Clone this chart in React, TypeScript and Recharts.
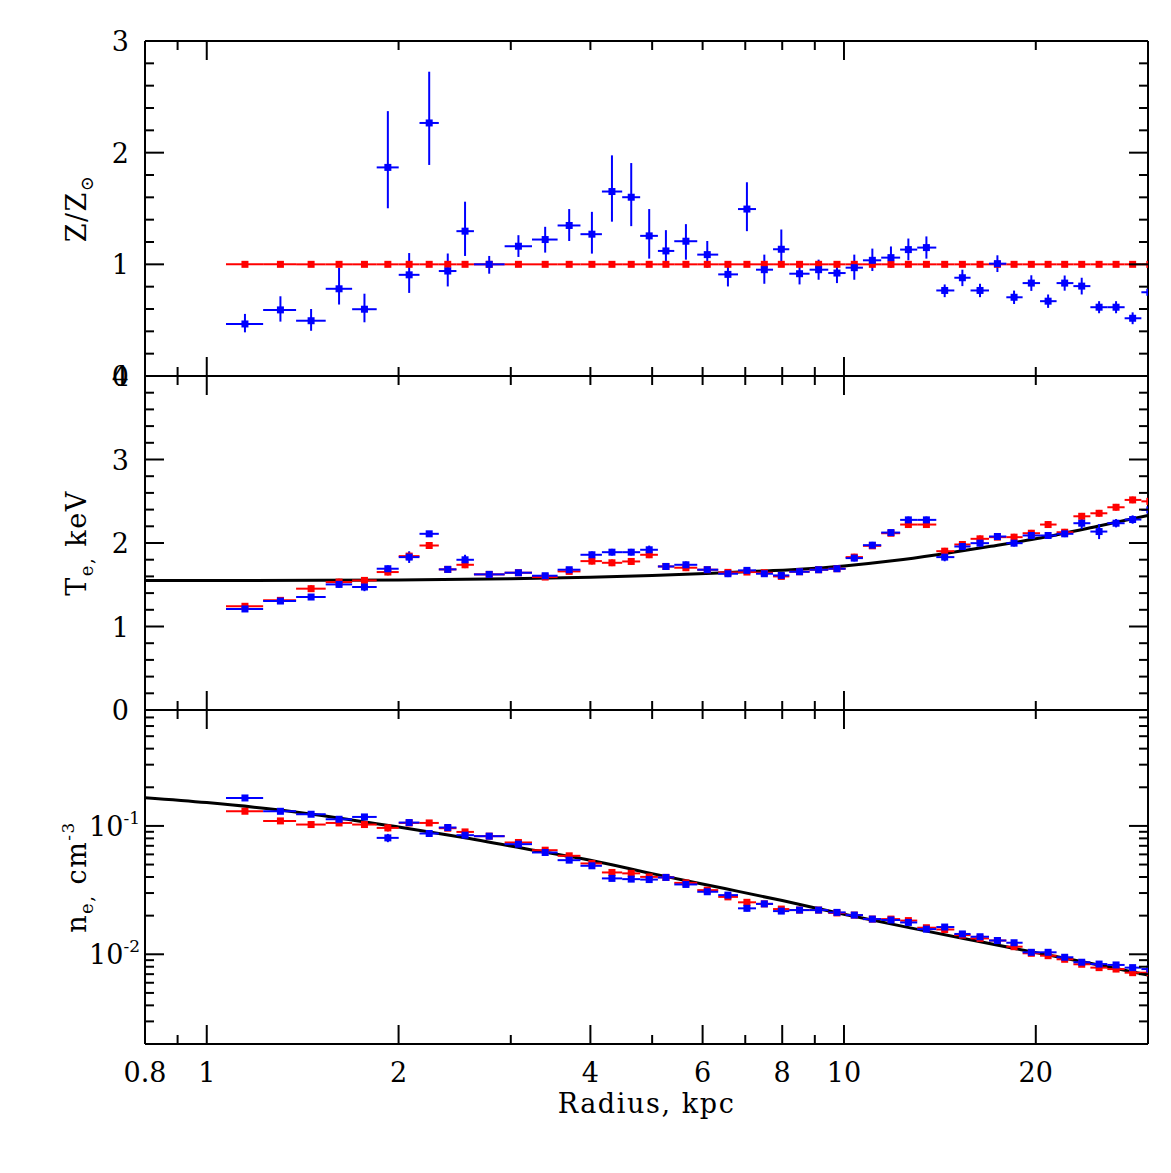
import React from "react";
import { ComposedChart, Scatter, Line, XAxis, YAxis, ErrorBar } from "recharts";

const W = 1171;
const H = 1173;
const LEFT = 145;
const RIGHT = 1148;
const FONT = "'DejaVu Serif', serif";
const BLUE = "#0000ff";
const RED = "#ff0000";

// radial bins (kpc): 47 edges for 46 annuli, last one runs past the axis
const binEdges = [
  1.072, 1.226, 1.381, 1.537, 1.691, 1.848, 2.001, 2.157, 2.313, 2.465, 2.626, 2.934, 3.239, 3.553,
  3.859, 4.17, 4.487, 4.788, 5.105, 5.416, 5.885, 6.348, 6.819, 7.277, 7.739, 8.207, 8.831, 9.448,
  10.06, 10.71, 11.44, 12.25, 13.03, 13.96, 14.9, 15.8, 16.89, 17.98, 19.07, 20.31, 21.56, 22.91,
  24.36, 25.9, 27.57, 29.29, 31.1,
];
const radius = [
  1.148, 1.305, 1.458, 1.613, 1.768, 1.924, 2.078, 2.234, 2.389, 2.543, 2.775, 3.084, 3.397, 3.705,
  4.022, 4.324, 4.636, 4.947, 5.255, 5.649, 6.102, 6.575, 7.042, 7.499, 7.974, 8.517, 9.124, 9.75,
  10.38, 11.08, 11.85, 12.62, 13.47, 14.39, 15.34, 16.35, 17.41, 18.49, 19.68, 20.91, 22.2, 23.61,
  25.14, 26.73, 28.38, 30.2,
];

// metallicity, Z/Zsun
const zBlue = [
  0.466, 0.592, 0.495, 0.781, 0.598, 1.868, 0.906, 2.266, 0.94, 1.297, 1.0, 1.162, 1.222, 1.348,
  1.27, 1.652, 1.601, 1.255, 1.12, 1.207, 1.087, 0.91, 1.495, 0.952, 1.135, 0.916, 0.952, 0.922,
  0.97, 1.036, 1.06, 1.132, 1.15, 0.766, 0.88, 0.766, 1.006, 0.705, 0.832, 0.67, 0.832, 0.805,
  0.616, 0.616, 0.517, 0.75,
];
const zBlueUp = [
  0.09, 0.122, 0.105, 0.189, 0.139, 0.504, 0.195, 0.459, 0.157, 0.264, 0.075, 0.099, 0.114, 0.147,
  0.2, 0.324, 0.306, 0.24, 0.186, 0.153, 0.122, 0.12, 0.24, 0.135, 0.177, 0.099, 0.09, 0.085,
  0.117, 0.105, 0.1, 0.099, 0.1, 0.054, 0.072, 0.06, 0.075, 0.06, 0.07, 0.06, 0.068, 0.075,
  0.054, 0.054, 0.053, 0.06,
];
const zBlueDown = [
  0.075, 0.105, 0.09, 0.141, 0.117, 0.366, 0.162, 0.376, 0.138, 0.222, 0.084, 0.096, 0.117, 0.139,
  0.174, 0.27, 0.259, 0.204, 0.13, 0.165, 0.117, 0.108, 0.198, 0.126, 0.159, 0.096, 0.09, 0.09,
  0.108, 0.096, 0.09, 0.096, 0.099, 0.06, 0.075, 0.06, 0.075, 0.06, 0.07, 0.06, 0.068, 0.075,
  0.054, 0.054, 0.053, 0.06,
];
const zRed = [
  1, 1, 1, 1, 1, 1, 1, 1, 1, 1, 1, 1, 1, 1, 1, 1, 1, 1, 1, 1, 1, 1, 1, 1, 1, 1, 1, 1, 1, 1, 1, 1,
  1, 1, 1, 1, 1, 1, 1, 1, 1, 1, 1, 1, 1, 1,
];

// temperature, keV
const tBlue = [
  1.21, 1.305, 1.353, 1.504, 1.473, 1.692, 1.831, 2.11, 1.684, 1.799, 1.624, 1.644, 1.608, 1.68,
  1.859, 1.89, 1.89, 1.919, 1.719, 1.739, 1.68, 1.632, 1.672, 1.632, 1.612, 1.656, 1.68, 1.692,
  1.819, 1.974, 2.125, 2.277, 2.277, 1.831, 1.958, 1.998, 2.078, 1.998, 2.09, 2.09, 2.11, 2.237,
  2.137, 2.237, 2.281, 2.396,
];
const tBlueErr = [
  0.03, 0.03, 0.03, 0.04, 0.05, 0.04, 0.07, 0.03, 0.03, 0.06, 0.03, 0.03, 0.03, 0.03, 0.04, 0.04,
  0.04, 0.05, 0.04, 0.04, 0.03, 0.04, 0.03, 0.03, 0.03, 0.03, 0.03, 0.03, 0.04, 0.04, 0.03, 0.04,
  0.04, 0.05, 0.04, 0.04, 0.03, 0.04, 0.04, 0.04, 0.04, 0.07, 0.09, 0.05, 0.05, 0.06,
];
const tRed = [
  1.242, 1.313, 1.453, 1.532, 1.552, 1.652, 1.843, 1.97, 1.684, 1.739, 1.624, 1.644, 1.592, 1.66,
  1.783, 1.763, 1.779, 1.859, 1.719, 1.704, 1.68, 1.648, 1.652, 1.644, 1.6, 1.656, 1.68, 1.692,
  1.831, 1.966, 2.117, 2.221, 2.221, 1.902, 1.982, 2.05, 2.07, 2.07, 2.117, 2.221, 2.129, 2.32,
  2.356, 2.428, 2.516, 2.499,
];
const tRedErr = [
  0.03, 0.03, 0.04, 0.04, 0.04, 0.04, 0.05, 0.04, 0.03, 0.04, 0.03, 0.03, 0.03, 0.03, 0.04, 0.04,
  0.04, 0.04, 0.03, 0.04, 0.03, 0.03, 0.03, 0.03, 0.03, 0.03, 0.03, 0.03, 0.04, 0.03, 0.03, 0.04,
  0.04, 0.04, 0.04, 0.04, 0.03, 0.04, 0.04, 0.04, 0.04, 0.04, 0.04, 0.04, 0.04, 0.04,
];
const tModelR = [0.8, 1, 1.5, 2, 3, 4, 5, 6.5, 8.5, 10, 12, 14, 17, 20, 25, 30];
const tModelT = [1.55, 1.55, 1.553, 1.557, 1.572, 1.59, 1.61, 1.645, 1.685, 1.725, 1.79, 1.86, 1.96, 2.05, 2.2, 2.33];

// electron density, cm^-3
const neBlue = [
  0.1651, 0.13, 0.1233, 0.1127, 0.1175, 0.0807, 0.1062, 0.0873, 0.0972, 0.0847, 0.0832, 0.0721,
  0.0621, 0.0541, 0.0489, 0.039, 0.0385, 0.0382, 0.0397, 0.035, 0.0307, 0.0289, 0.0228, 0.0247,
  0.0217, 0.0221, 0.0221, 0.0212, 0.0202, 0.0188, 0.0185, 0.0177, 0.0157, 0.0163, 0.0144, 0.0137,
  0.0128, 0.0123, 0.01036, 0.01036, 0.00948, 0.00867, 0.00839, 0.00826, 0.00787, 0.00767,
];
const neRed = [
  0.1301, 0.1094, 0.1025, 0.1055, 0.1025, 0.0965, 0.1055, 0.1055, 0.096, 0.0898, 0.0832, 0.0743,
  0.0647, 0.0585, 0.051, 0.0434, 0.0427, 0.0401, 0.0397, 0.036, 0.0316, 0.028, 0.0254, 0.0247,
  0.0225, 0.0221, 0.0221, 0.021, 0.0202, 0.0188, 0.0188, 0.0183, 0.0161, 0.0156, 0.0141, 0.0133,
  0.0128, 0.01146, 0.01018, 0.00975, 0.00914, 0.00836, 0.00787, 0.00767, 0.00719, 0.00719,
];
const neErr = [
  0.005, 0.004, 0.004, 0.004, 0.004, 0.006, 0.004, 0.003, 0.003, 0.003, 0.003, 0.003, 0.0025,
  0.002, 0.002, 0.0018, 0.0018, 0.0018, 0.0018, 0.0016, 0.0014, 0.0013, 0.0012, 0.0011, 0.001,
  0.001, 0.0009, 0.0009, 0.0008, 0.0008, 0.0008, 0.0007, 0.0007, 0.0007, 0.0006, 0.0006, 0.0006,
  0.0005, 0.0005, 0.0005, 0.0004, 0.0004, 0.0004, 0.0004, 0.0004, 0.0004,
];
const neModelR = [0.8, 1, 1.25, 1.6, 2, 2.5, 3.3, 4, 5, 6.5, 8, 10, 13, 16, 20, 25, 30];
const neModelN = [
  0.166, 0.152, 0.136, 0.116, 0.098, 0.082, 0.064, 0.054, 0.0425, 0.0325, 0.0262, 0.0205, 0.0157,
  0.0128, 0.0103, 0.0083, 0.0069,
];

// axis ticks
const xTicks = [0.8, 0.9, 1, 2, 3, 4, 5, 6, 7, 8, 9, 10, 20];
const xLabels = [0.8, 1, 2, 4, 6, 8, 10, 20];
const xDecades = [1, 10];
const zTicks = [0, 0.2, 0.4, 0.6, 0.8, 1, 1.2, 1.4, 1.6, 1.8, 2, 2.2, 2.4, 2.6, 2.8, 3];
const zMajor = [0, 1, 2, 3];
const tTicks = [0, 0.2, 0.4, 0.6, 0.8, 1, 1.2, 1.4, 1.6, 1.8, 2, 2.2, 2.4, 2.6, 2.8, 3, 3.2, 3.4, 3.6, 3.8, 4];
const tMajor = [0, 1, 2, 3, 4];
const neTicks = [
  0.002, 0.003, 0.004, 0.005, 0.006, 0.007, 0.008, 0.009, 0.01, 0.02, 0.03, 0.04, 0.05, 0.06, 0.07,
  0.08, 0.09, 0.1, 0.2, 0.3, 0.4, 0.5, 0.6, 0.7, 0.8,
];
const neMajor = [0.01, 0.1];
const neLabelExp = ["-2", "-1"];

const points = (values: number[], up: number[] | null, down?: number[] | null) =>
  radius.map((r, i) => ({
    r,
    v: values[i],
    ex: [r - binEdges[i], binEdges[i + 1] - r],
    ey: up ? [down ? down[i] : up[i], up[i]] : [0, 0],
  }));

const curve = (xs: number[], ys: number[]) => xs.map((r, i) => ({ r, v: ys[i] }));

const square = (color: string) => (p: any) =>
  p.cx == null ? <g /> : <rect x={p.cx - 3.5} y={p.cy - 3.5} width={7} height={7} fill={color} />;

function xTick(side: "top" | "bottom", longTicks: number[], labels: number[]) {
  return (props: any) => {
    const { x, y, payload } = props;
    const v = payload.value;
    const len = longTicks.includes(v) ? 19 : 9;
    const dir = side === "bottom" ? -1 : 1;
    return (
      <g>
        <line x1={x} y1={y} x2={x} y2={y + dir * len} stroke="#000" strokeWidth={2} />
        {labels.includes(v) ? (
          <text x={x} y={y + 38} textAnchor="middle" fontFamily={FONT} fontSize={27} fill="#000">
            {v}
          </text>
        ) : null}
      </g>
    );
  };
}

function yTick(side: "left" | "right", major: number[], label?: (v: number, x: number, y: number) => React.ReactNode) {
  return (props: any) => {
    const { x, y, payload } = props;
    const v = payload.value;
    const len = major.includes(v) ? 19 : 9;
    const dir = side === "left" ? 1 : -1;
    return (
      <g>
        <line x1={x} y1={y} x2={x + dir * len} y2={y} stroke="#000" strokeWidth={2} />
        {label ? label(v, x, y) : null}
      </g>
    );
  };
}

const linearLabel = (major: number[]) => (v: number, x: number, y: number) =>
  major.includes(v) ? (
    <text x={x - 16} y={y + 10} textAnchor="end" fontFamily={FONT} fontSize={27} fill="#000">
      {v}
    </text>
  ) : null;

const logLabel = (v: number, x: number, y: number) => {
  const i = neMajor.indexOf(v);
  if (i < 0) return null;
  return (
    <text x={x - 5} y={y + 10} textAnchor="end" fontFamily={FONT} fontSize={27} fill="#000">
      10
      <tspan dy={-12} fontSize={17}>
        {neLabelExp[i]}
      </tspan>
    </text>
  );
};

const titleProps = {
  textAnchor: "middle" as const,
  fontFamily: FONT,
  fontSize: 27,
  fill: "#000",
  letterSpacing: 1.5,
};
const titleZ = (x: number, y: number) => (
  <text transform={`translate(${x},${y}) rotate(-90)`} {...titleProps}>
    Z/Z
    <tspan fontSize={18} dy={7}>⊙</tspan>
  </text>
);
const titleT = (x: number, y: number) => (
  <text transform={`translate(${x},${y}) rotate(-90)`} {...titleProps}>
    T
    <tspan fontSize={18} dy={7}>e,</tspan>
    <tspan dy={-7}> keV</tspan>
  </text>
);
const titleN = (x: number, y: number) => (
  <text transform={`translate(${x},${y}) rotate(-90)`} {...titleProps}>
    n
    <tspan fontSize={18} dy={7}>e,</tspan>
    <tspan dy={-7}> cm</tspan>
    <tspan fontSize={17} dy={-12}>-3</tspan>
  </text>
);

const frame = { stroke: "#000", strokeWidth: 2 };

// axes need a non-zero size to be drawn, so each one gets 1px and the margins shrink by 1
function Panel(props: any) {
  const { top, bottom, yScale, yDomain, yTicks, yMajor, yLabel, xLong, xLabs, title, xTitle, children } = props;
  return (
    <div style={{ position: "absolute", left: 0, top: 0 }}>
      <ComposedChart
        width={W}
        height={H}
        margin={{ top: top - 1, bottom: H - bottom - 1, left: LEFT - 1, right: W - RIGHT - 1 }}
      >
        <XAxis
          xAxisId="b"
          dataKey="r"
          type="number"
          scale="log"
          domain={[0.8, 30]}
          allowDataOverflow
          ticks={xTicks}
          interval={0}
          height={1}
          tickSize={0}
          tickMargin={0}
          tickLine={false}
          axisLine={frame}
          tick={xTick("bottom", xLong, xLabs)}
          label={
            xTitle
              ? {
                  content: (p: any) => (
                    <text
                      x={p.viewBox.x + p.viewBox.width / 2}
                      y={p.viewBox.y + 69}
                      textAnchor="middle"
                      fontFamily={FONT}
                      fontSize={27}
                      letterSpacing={1.6}
                      fill="#000"
                    >
                      Radius, kpc
                    </text>
                  ),
                }
              : undefined
          }
        />
        <XAxis
          xAxisId="t"
          orientation="top"
          dataKey="r"
          type="number"
          scale="log"
          domain={[0.8, 30]}
          allowDataOverflow
          ticks={xTicks}
          interval={0}
          height={1}
          tickSize={0}
          tickMargin={0}
          tickLine={false}
          axisLine={frame}
          tick={xTick("top", xDecades, [])}
        />
        <YAxis
          yAxisId="l"
          dataKey="v"
          type="number"
          scale={yScale}
          domain={yDomain}
          allowDataOverflow
          ticks={yTicks}
          interval={0}
          width={1}
          tickSize={0}
          tickMargin={0}
          tickLine={false}
          axisLine={frame}
          tick={yTick("left", yMajor, yLabel)}
          label={{ content: (p: any) => title(p.viewBox.x - 58, p.viewBox.y + p.viewBox.height / 2) }}
        />
        <YAxis
          yAxisId="r"
          orientation="right"
          dataKey="v"
          type="number"
          scale={yScale}
          domain={yDomain}
          allowDataOverflow
          ticks={yTicks}
          interval={0}
          width={1}
          tickSize={0}
          tickMargin={0}
          tickLine={false}
          axisLine={frame}
          tick={yTick("right", yMajor)}
        />
        {children}
      </ComposedChart>
    </div>
  );
}

export default function App() {
  const zB = points(zBlue, zBlueUp, zBlueDown);
  const zR = points(zRed, null);
  const tB = points(tBlue, tBlueErr);
  const tR = points(tRed, tRedErr);
  const nB = points(neBlue, neErr);
  const nR = points(neRed, neErr);

  return (
    <div style={{ position: "absolute", left: 0, top: 0, width: W, height: H, background: "#fff" }}>
      <Panel top={41} bottom={376} yScale="linear" yDomain={[0, 3]} yTicks={zTicks} yMajor={zMajor}
        yLabel={linearLabel(zMajor)} xLong={xDecades} xLabs={[]} title={titleZ}>
        <Scatter xAxisId="b" yAxisId="l" data={zR} shape={square(RED)} isAnimationActive={false}>
          <ErrorBar dataKey="ex" direction="x" width={0} stroke={RED} strokeWidth={2} isAnimationActive={false} />
        </Scatter>
        <Scatter xAxisId="b" yAxisId="l" data={zB} shape={square(BLUE)} isAnimationActive={false}>
          <ErrorBar dataKey="ex" direction="x" width={0} stroke={BLUE} strokeWidth={2} isAnimationActive={false} />
          <ErrorBar dataKey="ey" direction="y" width={0} stroke={BLUE} strokeWidth={2} isAnimationActive={false} />
        </Scatter>
      </Panel>

      <Panel top={376} bottom={710} yScale="linear" yDomain={[0, 4]} yTicks={tTicks} yMajor={tMajor}
        yLabel={linearLabel(tMajor)} xLong={xDecades} xLabs={[]} title={titleT}>
        <Line xAxisId="b" yAxisId="l" data={curve(tModelR, tModelT)} dataKey="v" type="monotone"
          stroke="#000" strokeWidth={3} dot={false} isAnimationActive={false} />
        <Scatter xAxisId="b" yAxisId="l" data={tR} shape={square(RED)} isAnimationActive={false}>
          <ErrorBar dataKey="ex" direction="x" width={0} stroke={RED} strokeWidth={2} isAnimationActive={false} />
          <ErrorBar dataKey="ey" direction="y" width={0} stroke={RED} strokeWidth={2} isAnimationActive={false} />
        </Scatter>
        <Scatter xAxisId="b" yAxisId="l" data={tB} shape={square(BLUE)} isAnimationActive={false}>
          <ErrorBar dataKey="ex" direction="x" width={0} stroke={BLUE} strokeWidth={2} isAnimationActive={false} />
          <ErrorBar dataKey="ey" direction="y" width={0} stroke={BLUE} strokeWidth={2} isAnimationActive={false} />
        </Scatter>
      </Panel>

      <Panel top={710} bottom={1044} yScale="log" yDomain={[0.002, 0.8]} yTicks={neTicks} yMajor={neMajor}
        yLabel={logLabel} xLong={xLabels} xLabs={xLabels} title={titleN} xTitle>
        <Line xAxisId="b" yAxisId="l" data={curve(neModelR, neModelN)} dataKey="v" type="monotone"
          stroke="#000" strokeWidth={3} dot={false} isAnimationActive={false} />
        <Scatter xAxisId="b" yAxisId="l" data={nR} shape={square(RED)} isAnimationActive={false}>
          <ErrorBar dataKey="ex" direction="x" width={0} stroke={RED} strokeWidth={2} isAnimationActive={false} />
          <ErrorBar dataKey="ey" direction="y" width={0} stroke={RED} strokeWidth={2} isAnimationActive={false} />
        </Scatter>
        <Scatter xAxisId="b" yAxisId="l" data={nB} shape={square(BLUE)} isAnimationActive={false}>
          <ErrorBar dataKey="ex" direction="x" width={0} stroke={BLUE} strokeWidth={2} isAnimationActive={false} />
          <ErrorBar dataKey="ey" direction="y" width={0} stroke={BLUE} strokeWidth={2} isAnimationActive={false} />
        </Scatter>
      </Panel>

      {/* the outermost annulus runs past the axis; hide what spills right of the frame */}
      <div style={{ position: "absolute", left: RIGHT + 1, top: 0, width: W - RIGHT - 1, height: H, background: "#fff" }} />
    </div>
  );
}
